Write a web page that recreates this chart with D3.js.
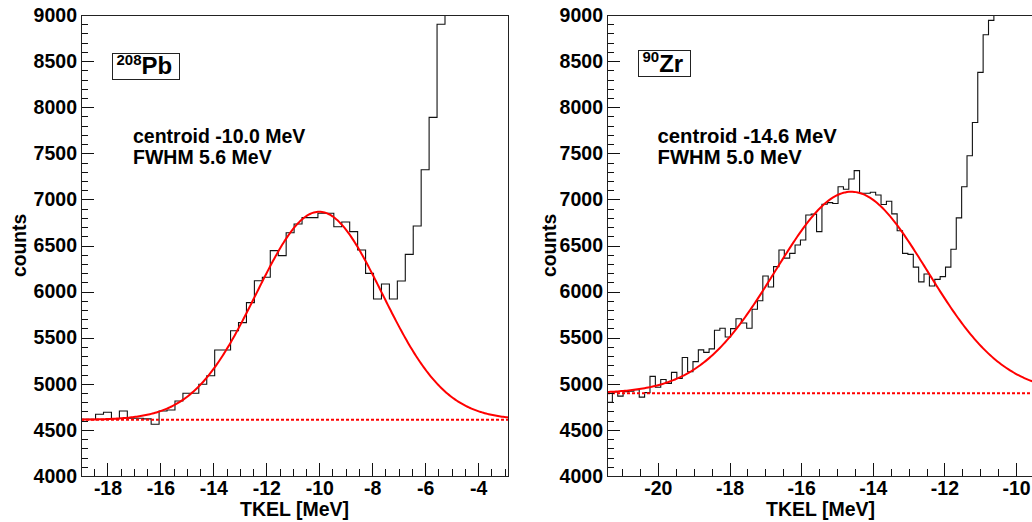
<!DOCTYPE html>
<html>
<head>
<meta charset="utf-8">
<script src="https://cdn.jsdelivr.net/npm/d3@7.9.0/dist/d3.min.js"></script>
<style>
  html, body { margin: 0; padding: 0; background: #fff; }
  svg { display: block; }
  text { font-family: "Liberation Sans", Arial, Helvetica, sans-serif; font-weight: bold; fill: #000; }
</style>
</head>
<body>
<svg id="chart" width="1032" height="522"></svg>
<script>
// --- 208Pb spectrum: 0.3 MeV bins, first low edge at -19.05 MeV
const pbBinLow = -19.05;
const pbBinWidth = 0.3;
const pbCounts = [
  4615, 4615, 4669, 4691, 4622, 4705, 4626, 4626, 4620, 4561,
  4705, 4716, 4813, 4897, 4897, 4995, 5088, 5367, 5367, 5576,
  5663, 5880, 6118, 6155, 6444, 6390, 6639, 6733, 6802, 6802,
  6849, 6849, 6704, 6755, 6650, 6451, 6198, 5920, 6082, 5920,
  6115, 6404, 6712, 7322, 7890, 8899, 9600
];
const pbXTicks = [-18, -16, -14, -12, -10, -8, -6, -4];
const pbCentroid = -10.0, pbFwhm = 5.6, pbPeak = 6866, pbBase = 4610;

// --- 90Zr spectrum: 0.15 MeV bins, first low edge at -21.42 MeV
const zrBinLow = -21.42;
const zrBinWidth = 0.15;
const zrCounts = [
  4799, 4912, 4866, 4915, 4920, 4935, 4856, 4904, 5080, 4962,
  5047, 5005, 5124, 5058, 5285, 5130, 5240, 5368, 5341, 5379,
  5580, 5602, 5508, 5598, 5706, 5660, 5602, 5808, 5900, 6169,
  6050, 6271, 6451, 6363, 6415, 6506, 6560, 6831, 6840, 6650,
  6947, 6965, 6955, 7138, 7110, 7221, 7312, 7066, 7066, 7077,
  7048, 6945, 6980, 6843, 6660, 6415, 6404, 6265, 6105, 6191,
  6061, 6133, 6162, 6265, 6460, 6800, 7138, 7474, 7834, 8378,
  8786, 8942, 9300
];
const zrXTicks = [-20, -18, -16, -14, -12, -10];
const zrCentroid = -14.6, zrFwhm = 5.0, zrPeak = 7083, zrBase = 4898;

const countTicks = [4000, 4500, 5000, 5500, 6000, 6500, 7000, 7500, 8000, 8500, 9000];

const svg = d3.select('#chart');
const plotTop = 15, plotBottom = 476;

const panels = [
  {
    id: 'pb', left: 81, right: 508, xDomain: [-19.0, -2.87],
    binLow: pbBinLow, binWidth: pbBinWidth, counts: pbCounts, xTicks: pbXTicks,
    centroid: pbCentroid, fwhm: pbFwhm, peak: pbPeak, base: pbBase,
    mass: '208', elem: 'Pb', labelX: 116.5, labelY: 74, boxY: 53,
    noteX: 133, noteSize: 19.5,
    notes: ['centroid -10.0 MeV', 'FWHM 5.6 MeV'], titleX: 26
  },
  {
    id: 'zr', left: 607, right: 1034, xDomain: [-21.42, -9.5],
    binLow: zrBinLow, binWidth: zrBinWidth, counts: zrCounts, xTicks: zrXTicks,
    centroid: zrCentroid, fwhm: zrFwhm, peak: zrPeak, base: zrBase,
    mass: '90', elem: 'Zr', labelX: 642.5, labelY: 71.5, boxY: 50,
    noteX: 657.5, noteSize: 20.3,
    notes: ['centroid -14.6 MeV', 'FWHM 5.0 MeV'], titleX: 555.5
  }
];

panels.forEach(drawPanel);

function drawPanel(p) {
  const x = d3.scaleLinear().domain(p.xDomain).range([p.left, p.right]);
  const y = d3.scaleLinear().domain([4000, 9000]).range([plotBottom, plotTop]);
  const g = svg.append('g');

  g.append('clipPath').attr('id', `clip-${p.id}`)
    .append('rect')
    .attr('x', p.left).attr('y', plotTop)
    .attr('width', p.right - p.left).attr('height', plotBottom - plotTop);

  const plot = g.append('g').attr('clip-path', `url(#clip-${p.id})`);

  // histogram outline as steps
  const steps = p.counts.map((c, i) => [p.binLow + i * p.binWidth, c]);
  steps.push([p.binLow + p.counts.length * p.binWidth, p.counts[p.counts.length - 1]]);
  plot.append('path')
    .attr('d', d3.line().x(d => x(d[0])).y(d => y(d[1])).curve(d3.curveStepAfter)(steps))
    .attr('fill', 'none')
    .attr('stroke', '#111')
    .attr('stroke-width', 1.1);

  // constant background of the fit
  plot.append('line')
    .attr('x1', p.left).attr('x2', p.right)
    .attr('y1', y(p.base)).attr('y2', y(p.base))
    .attr('stroke', '#ff0000')
    .attr('stroke-width', 2)
    .attr('stroke-dasharray', '3,2');

  // gaussian + constant fit
  const sigma = p.fwhm / (2 * Math.sqrt(2 * Math.log(2)));
  const amp = p.peak - p.base;
  const xs = d3.range(p.xDomain[0], p.xDomain[1], 0.05).concat([p.xDomain[1]]);
  const fit = xs.map(v => [v, p.base + amp * Math.exp(-((v - p.centroid) ** 2) / (2 * sigma * sigma))]);
  plot.append('path')
    .attr('d', d3.line().x(d => x(d[0])).y(d => y(d[1]))(fit))
    .attr('fill', 'none')
    .attr('stroke', '#ff0000')
    .attr('stroke-width', 2);

  // y axis: major and minor ticks drawn inside the frame
  const yMinor = d3.range(4000, 9001, 100).filter(v => v % 500 !== 0);
  g.append('g').attr('transform', `translate(${p.left},0)`)
    .call(d3.axisLeft(y).tickValues(countTicks).tickSize(-13).tickPadding(4).tickFormat(d => String(d)));
  g.append('g').attr('transform', `translate(${p.left},0)`)
    .call(d3.axisLeft(y).tickValues(yMinor).tickSize(-7).tickFormat(''));

  // x axis
  const xMinor = d3.range(Math.ceil(p.xDomain[0] * 2) / 2, p.xDomain[1], 0.5).filter(v => v % 2 !== 0);
  g.append('g').attr('transform', `translate(0,${plotBottom})`)
    .call(d3.axisBottom(x).tickValues(p.xTicks).tickSize(-13).tickPadding(5).tickFormat(d => String(d)));
  g.append('g').attr('transform', `translate(0,${plotBottom})`)
    .call(d3.axisBottom(x).tickValues(xMinor).tickSize(-7).tickFormat(''));

  g.selectAll('.domain').remove();
  g.selectAll('.tick line').attr('stroke', '#111').attr('shape-rendering', 'crispEdges');
  g.selectAll('.tick text')
    .attr('font-family', '"Liberation Sans", Arial, sans-serif')
    .attr('font-weight', 'bold')
    .attr('font-size', 19.5)
    .attr('fill', '#000');

  // frame
  g.append('rect')
    .attr('x', p.left).attr('y', plotTop)
    .attr('width', p.right - p.left).attr('height', plotBottom - plotTop)
    .attr('fill', 'none')
    .attr('stroke', '#222')
    .attr('stroke-width', 1)
    .attr('shape-rendering', 'crispEdges');

  // axis titles
  g.append('text')
    .attr('x', (p.left + p.right) / 2).attr('y', 516)
    .attr('text-anchor', 'middle')
    .attr('font-size', 19.5)
    .text('TKEL [MeV]');

  g.append('text')
    .attr('transform', `translate(${p.titleX},${(plotTop + plotBottom) / 2}) rotate(-90)`)
    .attr('text-anchor', 'middle')
    .attr('font-size', 19.3)
    .text('counts');

  // nucleus label in a box
  const box = g.append('rect');
  const lab = g.append('text').attr('x', p.labelX).attr('y', p.labelY);
  lab.append('tspan').attr('font-size', 15).attr('dy', -9.5).text(p.mass);
  lab.append('tspan').attr('font-size', 24).attr('dy', 9.5).text(p.elem);
  const bb = lab.node().getBBox();
  box.attr('x', p.labelX - 4.5).attr('y', p.boxY)
    .attr('width', bb.width + 12).attr('height', 26)
    .attr('fill', '#fff')
    .attr('stroke', '#222')
    .attr('stroke-width', 1)
    .attr('shape-rendering', 'crispEdges');

  // fit results
  p.notes.forEach((t, i) => {
    g.append('text')
      .attr('x', p.noteX).attr('y', 143 + i * 21)
      .attr('font-size', p.noteSize)
      .text(t);
  });
}
</script>
</body>
</html>
